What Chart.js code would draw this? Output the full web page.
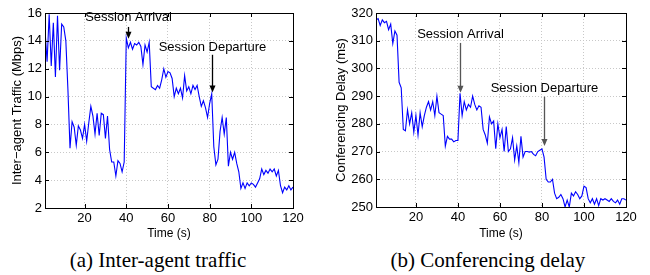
<!DOCTYPE html>
<html>
<head>
<meta charset="utf-8">
<script src="https://cdn.jsdelivr.net/npm/chart.js@4/dist/chart.umd.min.js"></script>
<style>
  body { margin: 0; background: #fff; }
  #wrap { position: relative; width: 650px; height: 275px; overflow: hidden; }
  canvas { position: absolute; top: 0; }
  .cap { position: absolute; top: 248px; font: 21px "Liberation Serif", "Times New Roman", serif; color: #000; white-space: nowrap; transform: translateX(-50%); }
</style>
</head>
<body>
<div id="wrap">
  <canvas id="trafficChart" width="320" height="245" style="left:0"></canvas>
  <canvas id="delayChart" width="325" height="245" style="left:325px"></canvas>
  <div class="cap" style="left:158px">(a) Inter-agent traffic</div>
  <div class="cap" style="left:488px">(b) Conferencing delay</div>
</div>
<script>
// time axis, one sample per second
const times = Array.from({ length: 120 }, (_, i) => i + 1);
const timeTicks = [20, 40, 60, 80, 100, 120];

// (a) inter-agent traffic, Mbps
const trafficVals = [
  14.8, 12.5, 15.9, 12.2, 15.3, 11.4, 15.8, 11.9, 15.2, 15.0,
  14.0, 10.5, 6.3, 8.2, 7.8, 6.5, 7.9, 7.6, 7.0, 8.0,
  6.8, 8.1, 9.3, 8.6, 7.3, 8.8, 7.2, 8.8, 8.7, 7.0,
  8.6, 6.2, 5.3, 5.3, 4.3, 5.4, 5.2, 4.6, 5.3, 14.2,
  13.5, 13.9, 13.4, 13.8, 13.7, 13.9, 13.6, 12.3, 13.7, 13.2,
  13.9, 10.7, 10.6, 10.5, 10.8, 10.6, 11.2, 12.0, 11.4, 11.8,
  11.7, 11.3, 10.0, 10.6, 10.2, 10.6, 9.9, 11.5, 10.4, 10.7,
  10.2, 10.8, 10.5, 10.8, 10.0, 9.3, 9.7, 9.2, 8.5, 9.5,
  10.2, 6.4, 5.1, 5.5, 7.5, 8.5, 7.3, 8.5, 5.0, 6.0,
  5.5, 6.0, 5.2, 4.6, 3.4, 3.8, 3.4, 3.8, 3.6, 3.8,
  3.7, 3.5, 3.8, 4.1, 4.8, 4.4, 4.7, 4.5, 4.8, 4.6,
  4.8, 4.3, 4.7, 3.6, 3.1, 3.5, 3.3, 3.6, 3.3, 3.5
];
const trafficTicks = [2, 4, 6, 8, 10, 12, 14, 16];

// (b) conferencing delay, ms
const delayVals = [
  317.5, 318, 315.5, 317.5, 316.5, 317, 314, 316, 309, 313.5,
  312, 295, 293, 278, 277.5, 285, 280, 284, 277, 283,
  276, 284, 279, 283, 286, 288, 285, 288, 283, 290,
  284, 283.5, 283, 272, 275.5, 274.5, 274.5, 273.5, 274, 274,
  291, 283, 288, 285, 287, 286, 290, 287, 285, 286.5,
  286, 278, 276, 273, 282.5, 280, 281, 271, 280, 275,
  278, 270, 279, 270, 271, 275, 267, 272, 266, 275.5,
  268, 270, 270, 269.8, 270, 269, 268.5, 270, 270.5, 271,
  268, 260, 259, 259, 260, 255, 253, 253.5, 254.5, 253,
  250, 252.5, 250, 255, 254, 255.5, 254.5, 253, 254, 257.5,
  257, 253, 251.5, 253, 251, 253, 250.5, 253, 252.5, 253,
  252.5, 252, 253, 252, 251.5, 252.5, 251, 253, 253, 252.5
];
const delayTicks = [250, 260, 270, 280, 290, 300, 310, 320];

// annotations: label, time, text y, arrow start, arrow tip
const noteLabels = ['Session Arrival', 'Session Departure'];
const trafficNoteT = [40.6, 80.9];
const trafficNoteText = [15.66, 13.55];
const trafficNoteFrom = [15.0, 13.0];
const trafficNoteTo = [14.15, 10.3];
const delayNoteT = [41, 81];
const delayNoteText = [312.1, 292.9];
const delayNoteFrom = [309.2, 289.8];
const delayNoteTo = [291.2, 272.0];

const sans = '"Liberation Sans", Arial, Helvetica, sans-serif';

const framePlugin = {
  id: 'frame',
  afterDatasetsDraw(chart) {
    const { ctx, chartArea: a, scales } = chart;
    ctx.save();
    ctx.strokeStyle = '#000';
    ctx.lineWidth = 1;
    ctx.beginPath();
    scales.x.ticks.forEach(t => {
      const px = Math.round(scales.x.getPixelForValue(t.value)) + 0.5;
      ctx.moveTo(px, a.bottom); ctx.lineTo(px, a.bottom - 4);
      ctx.moveTo(px, a.top); ctx.lineTo(px, a.top + 4);
    });
    scales.y.ticks.forEach(t => {
      const py = Math.round(scales.y.getPixelForValue(t.value)) + 0.5;
      ctx.moveTo(a.left, py); ctx.lineTo(a.left + 4, py);
      ctx.moveTo(a.right, py); ctx.lineTo(a.right - 4, py);
    });
    ctx.stroke();
    ctx.strokeRect(Math.round(a.left) + 0.5, Math.round(a.top) + 0.5,
      Math.round(a.right - a.left), Math.round(a.bottom - a.top));
    ctx.restore();
  }
};

const notePlugin = {
  id: 'notes',
  afterDraw(chart, args, o) {
    const { ctx, scales } = chart;
    ctx.save();
    ctx.font = '13px ' + sans;
    ctx.textAlign = 'center';
    ctx.textBaseline = 'middle';
    o.t.forEach((t, i) => {
      const x = Math.round(scales.x.getPixelForValue(t)) + 0.5;
      ctx.fillStyle = '#000';
      ctx.fillText(noteLabels[i], x, scales.y.getPixelForValue(o.text[i]));
      const y0 = scales.y.getPixelForValue(o.from[i]);
      const y1 = scales.y.getPixelForValue(o.to[i]);
      ctx.strokeStyle = o.color;
      ctx.fillStyle = o.color;
      ctx.lineWidth = 1.3;
      ctx.beginPath();
      ctx.moveTo(x, y0); ctx.lineTo(x, y1 - 5);
      ctx.stroke();
      ctx.beginPath();
      ctx.moveTo(x - 3, y1 - 7); ctx.lineTo(x + 3, y1 - 7); ctx.lineTo(x, y1);
      ctx.closePath();
      ctx.fill();
    });
    ctx.restore();
  }
};

function makeChart(id, vals, yTicks, yTitle, yWidth, xHeight, padRight, titlePad, notes) {
  return new Chart(document.getElementById(id), {
    type: 'line',
    data: {
      labels: times,
      datasets: [{
        data: vals,
        borderColor: '#0000ff',
        borderWidth: 1.1,
        pointRadius: 0,
        tension: 0,
        fill: false
      }]
    },
    options: {
      responsive: false,
      animation: false,
      layout: { padding: { top: 13, right: padRight, bottom: 0, left: 0 } },
      plugins: { legend: { display: false }, tooltip: { enabled: false }, notes: notes },
      scales: {
        x: {
          type: 'linear',
          min: 1,
          max: 120,
          afterBuildTicks: s => { s.ticks = timeTicks.map(v => ({ value: v })); },
          afterFit: s => { s.height = xHeight; },
          grid: { color: '#c8c8c8', drawTicks: false },
          border: { display: false, dash: [1, 2] },
          ticks: { color: '#000', font: { family: sans, size: 13 }, padding: 3, autoSkip: false, maxRotation: 0 },
          title: { display: true, text: 'Time (s)', color: '#000', font: { family: sans, size: 12 }, padding: { top: 0, bottom: 4 } }
        },
        y: {
          min: yTicks[0],
          max: yTicks[yTicks.length - 1],
          afterBuildTicks: s => { s.ticks = yTicks.map(v => ({ value: v })); },
          afterFit: s => { s.width = yWidth; },
          grid: { color: '#c8c8c8', drawTicks: false },
          border: { display: false, dash: [1, 2] },
          ticks: { color: '#000', font: { family: sans, size: 13 }, padding: 3, autoSkip: false },
          title: { display: true, text: yTitle, color: '#000', font: { family: sans, size: 13 }, padding: { top: titlePad, bottom: 0 } }
        }
      }
    },
    plugins: [framePlugin, notePlugin]
  });
}

makeChart('trafficChart', trafficVals, trafficTicks, 'Inter\u2212agent Traffic (Mbps)', 45, 37, 27, 10,
  { t: trafficNoteT, text: trafficNoteText, from: trafficNoteFrom, to: trafficNoteTo, color: '#000' });
makeChart('delayChart', delayVals, delayTicks, 'Conferencing Delay (ms)', 51, 38, 24, 9,
  { t: delayNoteT, text: delayNoteText, from: delayNoteFrom, to: delayNoteTo, color: '#555' });
</script>
</body>
</html>
